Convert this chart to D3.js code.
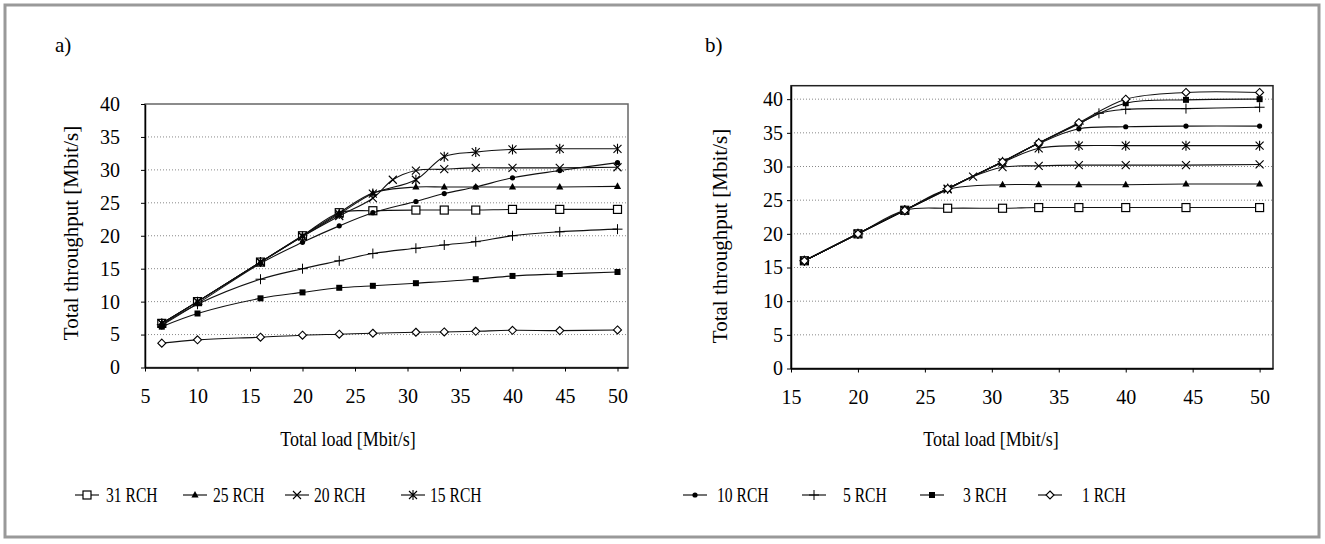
<!DOCTYPE html>
<html>
<head>
<meta charset="utf-8">
<script src="https://cdn.jsdelivr.net/npm/d3@7"></script>
<style>
  body { margin: 0; background: #fff; }
  svg { display: block; }
  text { font-family: "Liberation Serif", "Times New Roman", "DejaVu Serif", serif; fill: #000; }
</style>
</head>
<body>
<div id="chart"></div>
<script>
// series names and their marker style
const seriesNames = ["31 RCH", "25 RCH", "20 RCH", "15 RCH", "10 RCH", "5 RCH", "3 RCH", "1 RCH"];
const markerTypes = ["square", "triangle", "x", "star", "dot", "plus", "fsquare", "diamond"];

// panel a) total load [Mbit/s] and throughput per series (null = no measurement)
const loadA = [6.6, 10, 16, 20, 23.5, 26.7, 28.6, 30.8, 33.5, 36.5, 40, 44.5, 50];
const a31 = [6.7, 10.0, 16.0, 20.0, 23.5, 23.8, null, 23.9, 23.9, 23.9, 24.0, 24.0, 24.0];
const a25 = [6.7, 10.0, 16.0, 20.0, 23.5, 26.5, null, 27.4, 27.4, 27.4, 27.4, 27.4, 27.5];
const a20 = [6.7, 10.0, 16.0, 19.9, 23.0, 25.7, 28.5, 29.9, 30.1, 30.3, 30.3, 30.3, 30.4];
const a15 = [6.7, 10.0, 16.0, 19.9, 23.3, 26.4, null, 28.5, 32.0, 32.7, 33.1, 33.2, 33.2];
const a10 = [6.4, 9.7, 15.8, 19.0, 21.5, 23.5, null, 25.2, 26.4, 27.4, 28.8, 29.9, 31.1];
const a5  = [6.5, 9.6, 13.4, 15.0, 16.2, 17.3, null, 18.1, 18.6, 19.1, 20.0, 20.6, 21.0];
const a3  = [6.2, 8.2, 10.5, 11.4, 12.1, 12.4, null, 12.8, null, 13.4, 13.9, 14.2, 14.5];
const a1  = [3.7, 4.2, 4.6, 4.9, 5.05, 5.2, null, 5.35, 5.4, 5.5, 5.65, 5.6, 5.7];

// panel b)
const loadB = [16, 20, 23.5, 26.7, 28.6, 30.8, 33.5, 36.5, 38, 40, 44.5, 50];
const b31 = [16, 20, 23.5, 23.8, null, 23.8, 23.9, 23.9, null, 23.9, 23.9, 23.9];
const b25 = [16, 20, 23.5, 26.6, null, 27.3, 27.3, 27.3, null, 27.3, 27.4, 27.4];
const b20 = [16, 20, 23.5, 26.6, 28.5, 29.9, 30.1, 30.2, null, 30.2, 30.2, 30.3];
const b15 = [16, 20, 23.5, 26.7, null, 30.6, 32.7, 33.1, null, 33.1, 33.1, 33.1];
const b10 = [16, 20, 23.5, 26.7, null, 30.7, 33.4, 35.6, null, 35.9, 36.0, 36.0];
const b5  = [16, 20, 23.5, 26.7, null, 30.7, 33.5, 36.3, 37.9, 38.5, 38.6, 38.8];
const b3  = [16, 20, 23.5, 26.7, null, 30.7, 33.5, 36.4, null, 39.4, 39.9, 40.0];
const b1  = [16, 20, 23.5, 26.7, null, 30.7, 33.5, 36.5, null, 40.0, 41.0, 41.0];

const ticksA = [5, 10, 15, 20, 25, 30, 35, 40, 45, 50];
const ticksB = [15, 20, 25, 30, 35, 40, 45, 50];
const yTicks = [0, 5, 10, 15, 20, 25, 30, 35, 40];

const W = 1325, H = 544;
const svg = d3.select("#chart").append("svg")
    .attr("width", W)
    .attr("height", H);

// outer grey frame
svg.append("rect")
    .attr("x", 5).attr("y", 5)
    .attr("width", 1314).attr("height", 532)
    .attr("fill", "#fff")
    .attr("stroke", "#999")
    .attr("stroke-width", 3);

function drawMarker(s, type) {
    switch (type) {
        case "square":
            s.append("rect").attr("x", -4).attr("y", -4).attr("width", 8).attr("height", 8)
                .attr("fill", "#fff").attr("stroke", "#000").attr("stroke-width", 1.2);
            break;
        case "triangle":
            s.append("path").attr("d", "M0,-4L3.6,2.6L-3.6,2.6Z").attr("fill", "#000");
            break;
        case "x":
            s.append("path").attr("d", "M-4,-4L4,4M-4,4L4,-4").attr("stroke", "#000").attr("stroke-width", 1.1);
            break;
        case "star":
            s.append("path").attr("d", "M-4,-4L4,4M-4,4L4,-4M0,-5L0,5").attr("stroke", "#000").attr("stroke-width", 1.1);
            break;
        case "dot":
            s.append("circle").attr("r", 2.6).attr("fill", "#000");
            break;
        case "plus":
            s.append("path").attr("d", "M-5,0L5,0M0,-5L0,5").attr("stroke", "#000").attr("stroke-width", 1);
            break;
        case "fsquare":
            s.append("rect").attr("x", -3).attr("y", -3).attr("width", 6).attr("height", 6).attr("fill", "#000");
            break;
        case "diamond":
            s.append("path").attr("d", "M0,-4L4,0L0,4L-4,0Z")
                .attr("fill", "#fff").attr("stroke", "#000").attr("stroke-width", 1.1);
            break;
    }
}

function drawPanel(p) {
    const x = d3.scaleLinear().domain(p.xDomain).range(p.xRange);
    const y = d3.scaleLinear().domain(p.yDomain).range(p.yRange);
    const g = svg.append("g");

    // dotted gridlines
    g.selectAll(".grid")
        .data(p.gridValues)
        .join("line")
        .attr("x1", p.xRange[0]).attr("x2", p.xRange[1])
        .attr("y1", d => y(d)).attr("y2", d => y(d))
        .attr("stroke", "#888")
        .attr("stroke-width", 1)
        .attr("stroke-dasharray", "1,2");

    // plot box
    g.append("rect")
        .attr("x", p.xRange[0]).attr("y", p.yRange[1])
        .attr("width", p.xRange[1] - p.xRange[0])
        .attr("height", p.yRange[0] - p.yRange[1])
        .attr("fill", "none")
        .attr("stroke", p.boxColor)
        .attr("stroke-width", 1.5);

    // axes
    const xAxis = g.append("g")
        .attr("transform", `translate(0,${p.yRange[0]})`)
        .call(d3.axisBottom(x).tickValues(p.xTicks).tickSize(4).tickPadding(17).tickSizeOuter(0));
    const yAxis = g.append("g")
        .attr("transform", `translate(${p.xRange[0]},0)`)
        .call(d3.axisLeft(y).tickValues(yTicks).tickSize(4).tickPadding(p.yPad).tickSizeOuter(0));
    [xAxis, yAxis].forEach(a => {
        a.select(".domain").attr("stroke", "#000").attr("stroke-width", 1.5);
        a.selectAll(".tick line").attr("stroke", "#000");
        a.selectAll("text")
            .style("font-family", '"Liberation Serif", "Times New Roman", "DejaVu Serif", serif')
            .style("font-size", "20px")
            .attr("fill", "#000");
    });

    // series lines (smoothed) and markers
    const line = d3.line()
        .x(d => x(d.load))
        .y(d => y(d.value))
        .curve(d3.curveCatmullRom.alpha(0.5));

    p.series.forEach((vals, i) => {
        const pts = p.loads.map((l, j) => ({ load: l, value: vals[j] }))
            .filter(d => d.value !== null);
        g.append("path")
            .datum(pts)
            .attr("d", line)
            .attr("fill", "none")
            .attr("stroke", "#111")
            .attr("stroke-width", 1.1);
        g.append("g")
            .selectAll("g")
            .data(pts)
            .join("g")
            .attr("transform", d => `translate(${x(d.load)},${y(d.value)})`)
            .each(function () { drawMarker(d3.select(this), markerTypes[i]); });
    });

    // axis titles and panel label
    g.append("text")
        .attr("transform", `translate(${p.xTitleX},446) scale(0.9,1)`)
        .attr("text-anchor", "middle")
        .style("font-size", "20px")
        .text("Total load [Mbit/s]");
    g.append("text")
        .attr("transform", `translate(${p.yTitleX},${p.yTitleY}) rotate(-90)`)
        .attr("text-anchor", "middle")
        .style("font-size", "21px")
        .text("Total throughput [Mbit/s]");
    g.append("text")
        .attr("x", p.labelX).attr("y", 52)
        .style("font-size", "21px")
        .text(p.label);
}

drawPanel({
    label: "a)", labelX: 55,
    loads: loadA,
    series: [a31, a25, a20, a15, a10, a5, a3, a1],
    xDomain: [5, 51], xRange: [145, 628],
    yDomain: [0, 40], yRange: [367.5, 104],
    xTicks: ticksA, gridValues: [5, 10, 15, 20, 25, 30, 35],
    yPad: 21, boxColor: "#666",
    xTitleX: 348, yTitleX: 78, yTitleY: 233
});

drawPanel({
    label: "b)", labelX: 705,
    loads: loadB,
    series: [b31, b25, b20, b15, b10, b5, b3, b1],
    xDomain: [15, 51], xRange: [791, 1273],
    yDomain: [0, 42], yRange: [368.5, 85.7],
    xTicks: ticksB, gridValues: [5, 10, 15, 20, 25, 30, 35, 40],
    yPad: 4, boxColor: "#222",
    xTitleX: 991, yTitleX: 727, yTitleY: 236
});

// legend
const legendX = [75, 183, 285, 401, 683, 802, 920, 1038];
const legendTextX = [106, 213, 314, 430, 717, 843, 963, 1082];
const legendY = 495;
const legend = svg.append("g");
seriesNames.forEach((name, i) => {
    const lg = legend.append("g");
    lg.append("line")
        .attr("x1", legendX[i]).attr("x2", legendX[i] + 24)
        .attr("y1", legendY).attr("y2", legendY)
        .attr("stroke", "#000").attr("stroke-width", 1.1);
    drawMarker(lg.append("g").attr("transform", `translate(${legendX[i] + 12},${legendY})`), markerTypes[i]);
    lg.append("text")
        .attr("transform", `translate(${legendTextX[i]},${legendY + 7}) scale(0.78,1)`)
        .style("font-size", "20px")
        .text(name);
});
</script>
</body>
</html>
